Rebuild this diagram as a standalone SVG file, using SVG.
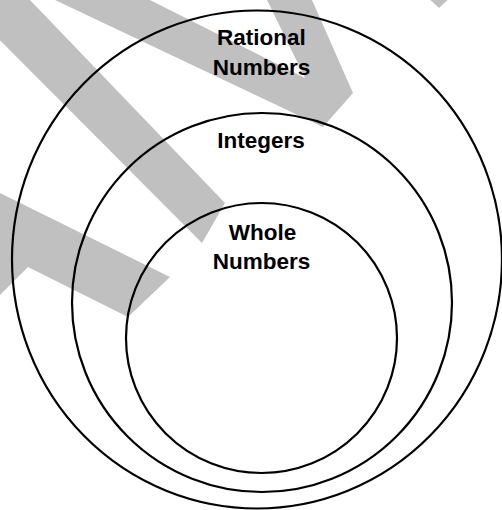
<svg xmlns="http://www.w3.org/2000/svg" width="502" height="510" viewBox="0 0 502 510">
  <style>
    .band { fill: #c0c0c0; stroke: none; }
    .set { fill: none; stroke: #000; stroke-width: 2.2; }
    .lbl { font-family: "Liberation Sans", Arial, sans-serif; font-weight: bold; font-size: 22.5px; fill: #000; text-anchor: middle; }
  </style>
  <rect x="0" y="0" width="502" height="510" fill="#fff"/>
  <g id="watermark">
    <polygon class="band" points="10.8,-20 225,203 202,243 -60,-20"/>
    <polygon class="band" points="110.2,-20 305,78 257.3,-20 303.2,-20 353,93 323,127 12.8,-20"/>
    <polygon class="band" points="-20,183.1 170,277 128,317 28,267 -20,315"/>
    <polygon class="band" points="426,-4 452,-4 439,8"/>
  </g>
  <g id="rational">
    <ellipse class="set" cx="257" cy="259.5" rx="245" ry="249"/>
    <text class="lbl" x="261.5" y="44.5">Rational</text>
    <text class="lbl" x="261.5" y="74.5">Numbers</text>
  </g>
  <g id="integers">
    <ellipse class="set" cx="262" cy="302.5" rx="190" ry="189.5"/>
    <text class="lbl" x="261" y="147.5">Integers</text>
  </g>
  <g id="whole">
    <ellipse class="set" cx="261.5" cy="338" rx="135.5" ry="135"/>
    <text class="lbl" x="262.5" y="240">Whole</text>
    <text class="lbl" x="261.5" y="269">Numbers</text>
  </g>
  <g id="connectors"/>
</svg>
